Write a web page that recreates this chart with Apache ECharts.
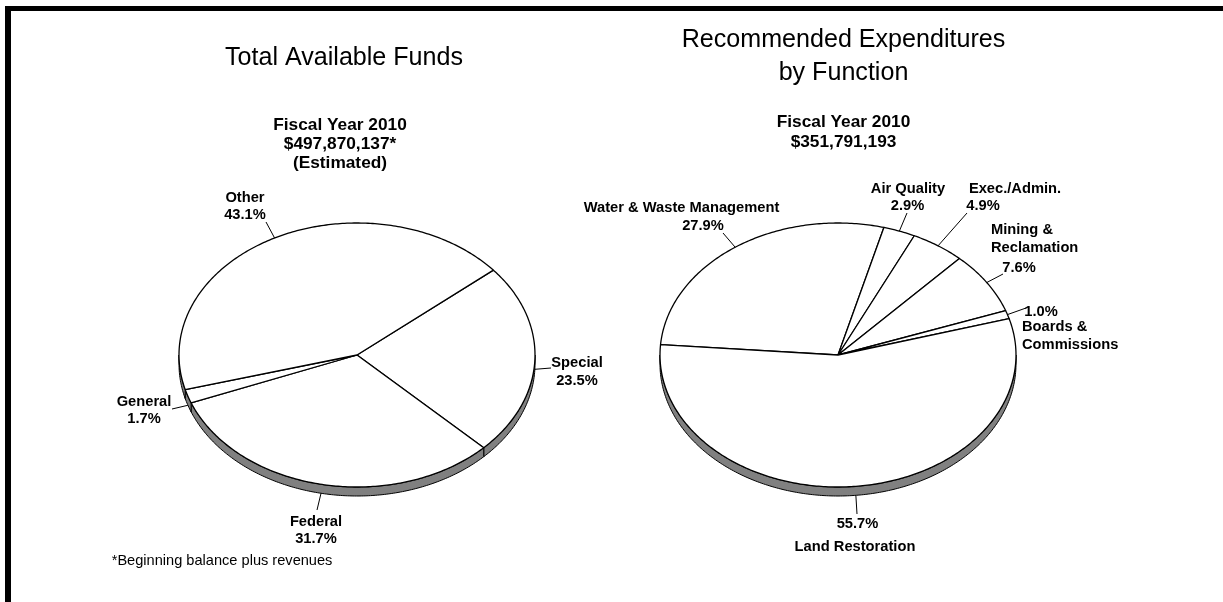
<!DOCTYPE html>
<html>
<head>
<meta charset="utf-8">
<script src="https://cdn.jsdelivr.net/npm/echarts@6/dist/echarts.min.js"></script>
<style>
  html, body { margin: 0; padding: 0; background: #fff; }
  #chart { width: 1223px; height: 602px; }
</style>
</head>
<body>
<div id="chart"></div>
<script>
// ---- Data -------------------------------------------------------------
// Total Available Funds, Fiscal Year 2010 (shares in percent)
const fundCategories = ['Special', 'Federal', 'General', 'Other'];
const fundShares = [23.5, 31.7, 1.7, 43.1];

// Recommended Expenditures by Function, Fiscal Year 2010 (shares in percent)
const expCategories = ['Water & Waste Management', 'Air Quality', 'Exec./Admin.',
  'Mining &\nReclamation', 'Boards &\nCommissions', 'Land Restoration'];
const expShares = [27.9, 2.9, 4.9, 7.6, 1.0, 55.7];

// Headings
const fundTitle = ['Total Available Funds'];
const fundSubtitle = ['Fiscal Year 2010', '$497,870,137*', '(Estimated)'];
const expTitle = ['Recommended Expenditures', 'by Function'];
const expSubtitle = ['Fiscal Year 2010', '$351,791,193'];
const footnote = '*Beginning balance plus revenues';

// ---- Layout -----------------------------------------------------------
const FONT = '"Liberation Sans", Arial, Helvetica, sans-serif';
const LABEL_SIZE = 14.7;
const TITLE_SIZE = 25.1;
const SUBTITLE_SIZE = 17.3;

// tilted pie geometry: centre, radii of the top face, wall depth, first slice edge (deg)
const fundGeo = { cx: 357, cy: 355, rx: 178, ry: 132, depth: 9, start: 40 };
const expGeo  = { cx: 838, cy: 355, rx: 178, ry: 132, depth: 9, start: 175.5 };

// label placement relative to the pie centre:
// lead = outer end of the leader line; lines = [part, dx, baseline dy, align]
// part 'n0'/'n1' = name line, 'p' = percent text
const fundLabelLayout = [
  { lead: [194, 13],   lines: [['n0', 220, 13, 'center'], ['p', 220, 31, 'center']] },
  { lead: [-40, 155],  lines: [['n0', -41, 172, 'center'], ['p', -41, 189, 'center']] },
  { lead: [-185, 54],  lines: [['n0', -213, 52, 'center'], ['p', -213, 69, 'center']] },
  { lead: [-91, -133], lines: [['n0', -112, -152, 'center'], ['p', -112, -135, 'center']] }
];
const expLabelLayout = [
  { lead: [-115, -122], lines: [['n0', -156.5, -142, 'center'], ['p', -135, -123.5, 'center']] },
  { lead: [69, -142],   lines: [['n0', 70, -161, 'center'], ['p', 69.5, -144, 'center']] },
  { lead: [129, -142],  lines: [['n0', 177, -161, 'center'], ['p', 145, -144, 'center']] },
  { lead: [165, -81],   lines: [['n0', 153, -120, 'left'], ['n1', 153, -102, 'left'], ['p', 181, -82, 'center']] },
  { lead: [188, -47],   lines: [['p', 203, -38, 'center'], ['n0', 184, -23, 'left'], ['n1', 184, -5, 'left']] },
  { lead: [19, 159],    lines: [['p', 19.5, 174, 'center'], ['n0', 17, 197, 'center']] }
];

// ---- Helpers ----------------------------------------------------------
function textEl(text, x, baseline, size, weight, align) {
  return {
    type: 'text',
    silent: true,
    style: {
      text: text,
      x: x,
      y: baseline - 0.36 * size,
      fontSize: size,
      fontFamily: FONT,
      fontWeight: weight,
      fill: '#000',
      align: align, textAlign: align,
      verticalAlign: 'middle', textVerticalAlign: 'middle'
    }
  };
}

function ellipsePoint(g, deg, drop) {
  const r = deg * Math.PI / 180;
  return [g.cx + g.rx * Math.cos(r), g.cy - g.ry * Math.sin(r) + (drop || 0)];
}

function arcPoints(g, from, to, drop) {
  const pts = [];
  const n = Math.max(2, Math.ceil(Math.abs(from - to) / 0.75));
  for (let k = 0; k <= n; k++) {
    pts.push(ellipsePoint(g, from + (to - from) * k / n, drop));
  }
  return pts;
}

function tiltedPieSeries(names, shares, geo, layout) {
  const total = shares.reduce((s, v) => s + v, 0);
  const starts = [];
  let acc = 0;
  shares.forEach(v => { starts.push(geo.start - acc / total * 360); acc += v; });

  return {
    type: 'custom',
    coordinateSystem: 'none',
    animation: false,
    silent: true,
    data: shares.map((v, i) => ({ name: names[i], value: v })),
    renderItem: function (params, api) {
      const i = params.dataIndex;
      const value = api.value(0);
      const a0 = starts[i];
      const a1 = a0 - value / total * 360;
      const children = [];

      // side wall: parts of the slice that face the viewer (lower half)
      for (let k = -1; k <= 1; k++) {
        const lo = Math.max(a1, -180 + 360 * k);
        const hi = Math.min(a0, 360 * k);
        if (hi - lo > 0.01) {
          const top = arcPoints(geo, hi, lo, 0);
          const bottom = arcPoints(geo, lo, hi, geo.depth);
          children.push({
            type: 'polygon',
            shape: { points: top.concat(bottom) },
            style: { fill: '#808080', stroke: '#000', lineWidth: 1, lineJoin: 'round' }
          });
        }
      }

      // top face
      children.push({
        type: 'polygon',
        shape: { points: [[geo.cx, geo.cy]].concat(arcPoints(geo, a0, a1, 0)) },
        style: { fill: '#fff', stroke: '#000', lineWidth: 1.3, lineJoin: 'round' }
      });

      // leader line from the slice rim to its label
      const mid = (a0 + a1) / 2;
      const front = Math.sin(mid * Math.PI / 180) < 0;
      const from = ellipsePoint(geo, mid, front ? geo.depth : 0);
      const lay = layout[i];
      children.push({
        type: 'polyline',
        shape: { points: [from, [geo.cx + lay.lead[0], geo.cy + lay.lead[1]]] },
        style: { stroke: '#000', lineWidth: 1, fill: null }
      });

      // label text
      const nameLines = names[i].split('\n');
      lay.lines.forEach(([part, dx, dy, align]) => {
        const t = part === 'p' ? value.toFixed(1) + '%' : nameLines[+part.slice(1)];
        children.push(textEl(t, geo.cx + dx, geo.cy + dy, LABEL_SIZE, 'bold', align));
      });

      return { type: 'group', children: children };
    }
  };
}

// ---- Chart ------------------------------------------------------------
const chart = echarts.init(document.getElementById('chart'), null, { renderer: 'canvas' });

const headings = [
  // frame edges
  { type: 'rect', silent: true, shape: { x: 5, y: 6, width: 1218, height: 5 }, style: { fill: '#000' } },
  { type: 'rect', silent: true, shape: { x: 5, y: 6, width: 6, height: 596 }, style: { fill: '#000' } },
  textEl(fundTitle[0], 344, 67, TITLE_SIZE, 'normal', 'center'),
  textEl(expTitle[0], 843.5, 49, TITLE_SIZE, 'normal', 'center'),
  textEl(expTitle[1], 843.5, 82, TITLE_SIZE, 'normal', 'center'),
  textEl(fundSubtitle[0], 340, 131, SUBTITLE_SIZE, 'bold', 'center'),
  textEl(fundSubtitle[1], 340, 150.5, SUBTITLE_SIZE, 'bold', 'center'),
  textEl(fundSubtitle[2], 340, 169.5, SUBTITLE_SIZE, 'bold', 'center'),
  textEl(expSubtitle[0], 843.5, 128, SUBTITLE_SIZE, 'bold', 'center'),
  textEl(expSubtitle[1], 843.5, 148, SUBTITLE_SIZE, 'bold', 'center'),
  textEl(footnote, 111.7, 566.7, 14.6, 'normal', 'left')
];

chart.setOption({
  backgroundColor: '#fff',
  animation: false,
  graphic: { elements: headings },
  series: [
    tiltedPieSeries(fundCategories, fundShares, fundGeo, fundLabelLayout),
    tiltedPieSeries(expCategories, expShares, expGeo, expLabelLayout)
  ]
});
</script>
</body>
</html>
